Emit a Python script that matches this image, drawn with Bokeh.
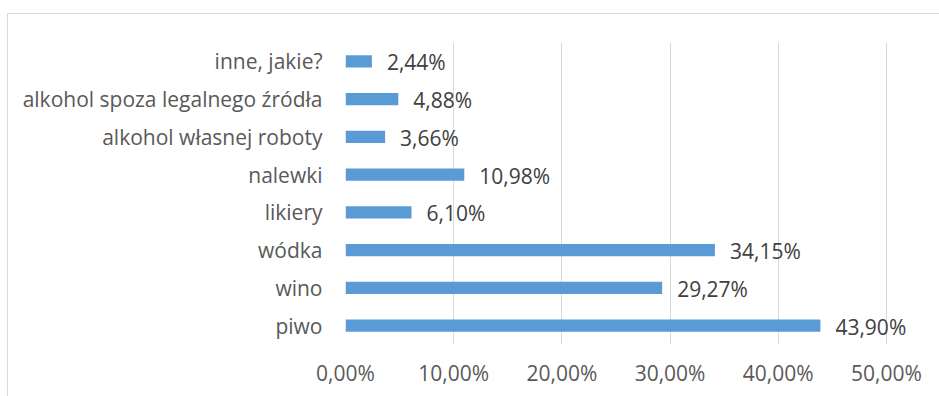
from bokeh.plotting import figure
from bokeh.models import FactorRange, FixedTicker, CustomJSTickFormatter, ColumnDataSource
from bokeh.core.properties import value
from bokeh.embed import file_html
from bokeh.resources import INLINE

categories = ["piwo", "wino", "wódka", "likiery", "nalewki",
              "alkohol własnej roboty", "alkohol spoza legalnego źródła", "inne, jakie?"]
values = [43.90, 29.27, 34.15, 6.10, 10.98, 3.66, 4.88, 2.44]
x_ticks = [0, 10, 20, 30, 40, 50]

labels = [f"{v:.2f}%".replace(".", ",") for v in values]
src = ColumnDataSource(dict(cat=categories, val=values, lab=labels))

FONT = "Open Sans"
FS = "21px"

p = figure(width=932, height=383, y_range=FactorRange(*categories, range_padding=0),
           x_range=(0, 55), output_backend="svg", toolbar_location=None,
           min_border_left=337, min_border_right=0, min_border_top=28, min_border_bottom=53)
p.margin = (13, 0, 0, 7)
p.styles = {"border-top": "1px solid #d9d9d9", "border-left": "1px solid #d9d9d9"}
p.outline_line_color = None
p.background_fill_color = "white"
p.border_fill_color = "white"

p.hbar(y="cat", right="val", left=0, height=0.32, source=src,
       fill_color="#5B9BD5", line_color=None)
p.text(x="val", y="cat", text="lab", source=src, x_offset=15, y_offset=1,
       text_align="left", text_baseline="middle", text_font=value(FONT),
       text_font_size=FS, text_color="#404040")

p.xaxis.ticker = FixedTicker(ticks=x_ticks)
p.xaxis.formatter = CustomJSTickFormatter(code="return tick.toFixed(2).replace('.', ',') + '%';")
for ax in (p.xaxis[0], p.yaxis[0]):
    ax.axis_line_color = None
    ax.major_tick_line_color = None
    ax.minor_tick_line_color = None
    ax.major_tick_out = 0
    ax.major_tick_in = 0
    ax.major_label_text_font = FONT
    ax.major_label_text_font_size = FS
    ax.major_label_text_color = "#595959"
p.xaxis.major_label_standoff = 14
p.yaxis.major_label_standoff = 23

p.xgrid.grid_line_color = "#d9d9d9"
p.xgrid.grid_line_width = 1
p.ygrid.grid_line_color = None

open("out.html", "w").write(file_html(p, INLINE))
